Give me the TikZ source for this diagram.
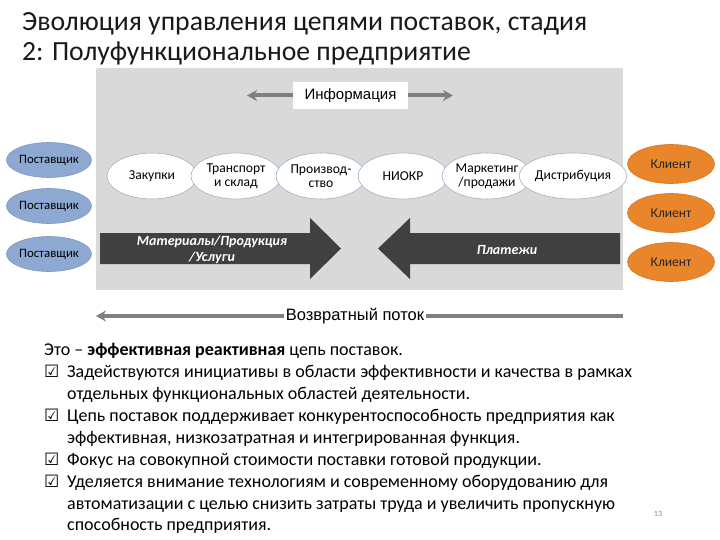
\documentclass[tikz,border=0pt]{standalone}
\usepackage{fontspec}
\setmainfont{Carlito}
\newfontfamily\arial{Liberation Sans}
\newfontfamily\dejavu{DejaVu Sans}
\usetikzlibrary{arrows.meta,shapes.geometric}
\definecolor{bgray}{HTML}{D9D9D9}
\definecolor{agray}{HTML}{7F7F7F}
\definecolor{dgray}{HTML}{404040}
\definecolor{supblue}{HTML}{8EA9D1}
\definecolor{supedge}{HTML}{7F98C0}
\definecolor{cliorange}{HTML}{E9852B}
\definecolor{cliedge}{HTML}{D9761F}
\definecolor{procedge}{HTML}{9FB2C6}
\tikzset{
  supnode/.style={ellipse,fill=supblue,draw=supedge,line width=0.6pt,minimum width=85pt,minimum height=35pt,inner sep=0pt,font=\fontsize{12.8}{14}\selectfont},
  clinode/.style={ellipse,fill=cliorange,draw=cliedge,line width=0.6pt,minimum width=87pt,minimum height=39pt,inner sep=0pt,font=\fontsize{13.5}{14}\selectfont,text=black!85},
  procnode/.style={ellipse,fill=white,draw=procedge,line width=0.6pt,minimum width=90pt,minimum height=46pt,inner sep=0pt,align=center,font=\fontsize{13.6}{14}\selectfont},
  flowline/.style={draw=agray,line width=4pt},
  bodyline/.style={anchor=base west,inner sep=0pt,font=\fontsize{18}{20}\selectfont},
  chk/.style={anchor=base west,inner sep=0pt,font=\dejavu\fontsize{17}{18}\selectfont},
  biglabel/.style={text=white,font=\bfseries\itshape\fontsize{14}{16}\selectfont,align=center,inner sep=0pt}
}
\begin{document}
\begin{tikzpicture}[x=1pt,y=-1pt]
\useasboundingbox (0,0) rectangle (720,540);
\fill[white] (0,0) rectangle (720,540);
% title
\node[anchor=base west,inner sep=0pt,font=\fontsize{27.7}{30}\selectfont,text=black!90] (t1) at (22,31) {Эволюция управления цепями поставок, стадия};
\node[anchor=base west,inner sep=0pt,font=\fontsize{27.7}{30}\selectfont,text=black!90] (t2) at (22,61) {2: Полуфункциональное предприятие};
% grey panel
\fill[bgray] (96,68) rectangle (623,290);
% information
\node[fill=white,minimum width=115pt,minimum height=27pt,inner sep=0pt,font=\arial\fontsize{15}{16}\selectfont] (info) at (350.5,95.5) {Информация};
\coordinate (infoL) at (247,95.5);
\coordinate (infoR) at (453,95.5);
\draw[flowline,-{Stealth[length=10pt,width=11pt]}] (info.west) -- (infoL);
\draw[flowline,-{Stealth[length=10pt,width=11pt]}] (info.east) -- (infoR);
% process ellipses
\node[procnode] (p1) at (152,176) {Закупки};
\node[procnode] (p2) at (236,176) {Транспорт\\и склад};
\node[procnode] (p3) at (321,176) {Производ-\\ство};
\node[procnode] (p4) at (403,176) {НИОКР};
\node[procnode] (p5) at (487,176) {Маркетинг\\/продажи};
\node[procnode,minimum width=93pt] (p6) at (573,176) {Дистрибуция};
% suppliers
\node[supnode] (s1) at (49,160) {Поставщик};
\node[supnode] (s2) at (49,206) {Поставщик};
\node[supnode] (s3) at (49,254) {Поставщик};
% clients
\node[clinode] (c1) at (671,164) {Клиент};
\node[clinode] (c2) at (671,213) {Клиент};
\node[clinode] (c3) at (671,262) {Клиент};
% big arrows
\fill[dgray] (100,233) -- (310,233) -- (310,218) -- (341,248.5) -- (310,279) -- (310,264) -- (100,264) -- cycle;
\node[biglabel] (mat) at (212,250) {Материалы/Продукция\\/Услуги};
\fill[dgray] (620,233) -- (410,233) -- (410,218) -- (378,248.5) -- (410,279) -- (410,264) -- (620,264) -- cycle;
\node[biglabel] (pay) at (507,250) {Платежи};
% return flow
\node[fill=white,inner sep=2pt,font=\arial\fontsize{16.5}{18}\selectfont] (ret) at (355,316) {Возвратный поток};
\coordinate (retL) at (96,316);
\coordinate (retR) at (623,316);
\draw[flowline,-{Stealth[length=10pt,width=11pt]}] (ret.west) -- (retL);
\draw[flowline] (ret.east) -- (retR);
% body text
\node[bodyline] (b1) at (44,355) {Это – \textbf{эффективная реактивная} цепь поставок.};
\node[chk] (k1) at (44,377) {☑};
\node[bodyline] (b2) at (67,377) {Задействуются инициативы в области эффективности и качества в рамках};
\node[bodyline] (b3) at (67,399) {отдельных функциональных областей деятельности.};
\node[chk] (k2) at (44,421) {☑};
\node[bodyline] (b4) at (67,421) {Цепь поставок поддерживает конкурентоспособность  предприятия как};
\node[bodyline] (b5) at (67,443) {эффективная, низкозатратная и интегрированная функция.};
\node[chk] (k3) at (44,465) {☑};
\node[bodyline] (b6) at (67,465) {Фокус на совокупной стоимости поставки готовой продукции.};
\node[chk] (k4) at (44,487) {☑};
\node[bodyline] (b7) at (67,487) {Уделяется внимание технологиям и современному оборудованию для};
\node[bodyline] (b8) at (67,509) {автоматизации с целью снизить затраты труда и увеличить пропускную};
\node[bodyline] (b9) at (67,530) {способность предприятия.};
\node[font=\fontsize{8}{9}\selectfont,text=black!45,inner sep=0pt] (pg) at (658,514) {13};
\end{tikzpicture}
\end{document}
